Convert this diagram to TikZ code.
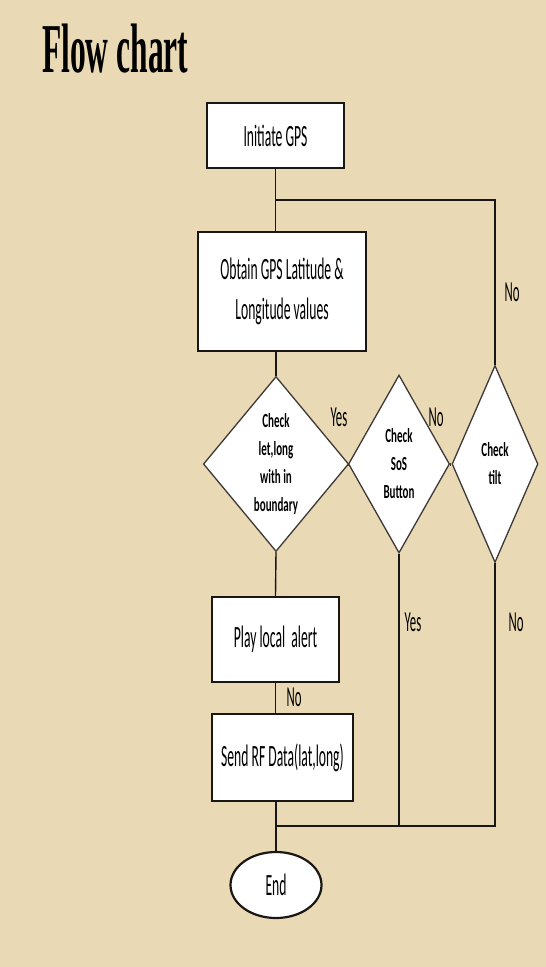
\documentclass[tikz,border=0pt]{standalone}
\usepackage{fontspec}
\setmainfont{Carlito}[FakeStretch=0.44]
\newfontfamily\decfont{Carlito}[FakeStretch=0.55]
\newfontfamily\titlefont{Liberation Serif}[FakeStretch=0.45]
\usepackage{tikz}
\usetikzlibrary{shapes.geometric}
\definecolor{parch}{RGB}{234,217,181}
\definecolor{ink}{RGB}{25,22,20}
\definecolor{link}{RGB}{80,62,42}

\tikzset{
  procbox/.style={draw=ink,line width=2.4pt,fill=white,inner sep=0pt,align=center,
    font=\fontsize{31}{40}\selectfont},
  decbox/.style={diamond,draw=ink!85,line width=1.3pt,fill=white,inner sep=0pt,align=center,
    font=\decfont\bfseries\fontsize{20}{28}\selectfont},
  flow/.style={draw=ink,line width=1.4pt},
  lbl/.style={font=\fontsize{29}{29}\selectfont,inner sep=0pt}
}

\begin{document}
\begin{tikzpicture}[x=1pt,y=-1pt]
                    \fill[parch] (0,0) rectangle (546,967);
                    \useasboundingbox (0,0) rectangle (546,967);

                    \node[anchor=base west,inner sep=0pt,font=\titlefont\bfseries\fontsize{70}{70}\selectfont] (title) at (42,72) {Flow chart};

                    \node[procbox,minimum width=137,minimum height=65] (init) at (275.5,135.5) {Initiate GPS};
                    \node[procbox,minimum width=168,minimum height=119] (obtain) at (282,291.5) {Obtain GPS Latitude \&\\Longitude values};

                    \node[decbox,minimum width=124,minimum height=175] (bound) at (276,464) {Check\\let,long\\with in\\boundary};
                    \node[decbox,minimum width=92,minimum height=178] (sos) at (399,464) {Check\\SoS\\Button};
                    \node[decbox,minimum width=86,minimum height=197] (tilt) at (495,464) {Check\\tilt};

                    \node[procbox,minimum width=127,minimum height=85] (alert) at (275.5,639.5) {Play local\ \ alert};
                    \node[procbox,minimum width=141,minimum height=87] (send) at (282.5,757.5) {Send RF Data(lat,long)};
                    \node[ellipse,draw=ink,line width=2.2pt,fill=white,inner sep=0pt,minimum width=91,minimum height=66,
                          font=\fontsize{31}{31}\selectfont] (end) at (276,885) {End};

                    \coordinate (loopL) at (276,200);
                    \coordinate (loopR) at (495,200);
                    \coordinate (joinL) at (276,826);
                    \coordinate (joinR) at (495,826);

                    \draw[flow] (init.south) -- (init.south |- obtain.north);
                    \draw[flow] (loopL) -- (loopR) -- (tilt.north);
                    \draw[flow] (bound.north |- obtain.south) -- (bound.north);
                    \draw[link,line width=3pt] (bound.east) -- (sos.west);
                    \draw[link,line width=3pt] (sos.east) -- (tilt.west);
                    \draw[flow] (bound.south) -- (alert.south |- alert.north);
                    \draw[flow] (alert.south) -- (alert.south |- send.north);
                    \draw[flow] (end.north |- send.south) -- (end.north);
                    \draw[flow] (sos.south) -- (sos.south |- joinR);
                    \draw[flow] (tilt.south) -- (joinR) -- (joinL);

                    \node[lbl] (yes1) at (339,417) {Yes};
                    \node[lbl] (no1) at (436,417) {No};
                    \node[lbl] (no2) at (512,292) {No};
                    \node[lbl] (yes2) at (413,622) {Yes};
                    \node[lbl] (no3) at (516,622) {No};
                    \node[lbl] (no4) at (294,697) {No};
                \end{tikzpicture}
\end{document}
